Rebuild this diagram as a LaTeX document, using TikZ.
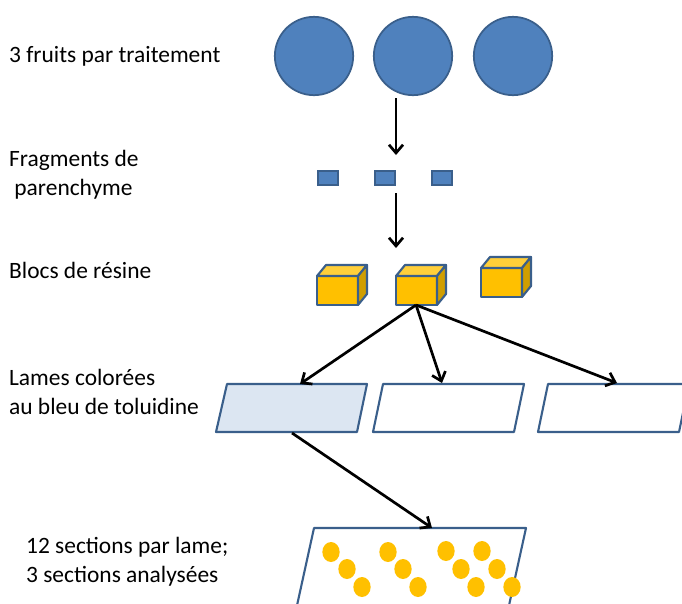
\documentclass[tikz,border=0pt]{standalone}
\usepackage{fontspec}
\setmainfont{Carlito}
\usetikzlibrary{arrows.meta}

\definecolor{fruitblue}{HTML}{4F81BD}
\definecolor{edgeblue}{HTML}{3A5F8B}
\definecolor{resin}{HTML}{FFC000}
\definecolor{resintop}{HTML}{FFCF3A}
\definecolor{resinside}{HTML}{D09E00}
\definecolor{lameblue}{HTML}{DCE6F2}

\tikzset{
  fleche/.style={-{Straight Barb[length=7pt,width=12pt]}, line width=2.3pt},
  etiquette/.style={anchor=west, align=left, font=\fontsize{20}{25}\selectfont},
  fruit/.style={circle, fill=fruitblue, draw=edgeblue, line width=1.5pt, minimum size=2.35cm, inner sep=0pt},
  fragment/.style={fill=fruitblue, draw=edgeblue, line width=1.5pt, minimum width=0.62cm, minimum height=0.42cm, inner sep=0pt},
  bord/.style={draw=edgeblue, line width=1.8pt, line join=round},
  grain/.style={fill=resin}
}

% bloc de resine : coin haut gauche de la face avant, nom
\newcommand{\bloc}[3]{%
  \filldraw[bord, fill=resin] (#1,#2) rectangle ++(41,29);
  \filldraw[bord, fill=resintop] (#1,#2) -- ++(9,-11) -- ++(41,0) -- ++(-9,11) -- cycle;
  \filldraw[bord, fill=resinside] (#1+41,#2) -- ++(9,-11) -- ++(0,29) -- ++(-9,11) -- cycle;
  \coordinate (#3) at (#1+20,#2+29);
}

\begin{document}
\begin{tikzpicture}[x=0.03cm, y=-0.03cm]
    \useasboundingbox (0,0) rectangle (682,603);

    % etiquettes
    \node[etiquette] (t1) at (5,56) {3 fruits par traitement};
    \node[etiquette] (t2) at (5,175) {Fragments de\\ \ parenchyme};
    \node[etiquette] (t3) at (5,270) {Blocs de résine};
    \node[etiquette] (t4) at (5,392) {Lames colorées\\au bleu de toluidine};
    \node[etiquette] (t5) at (22,562) {12 sections par lame;\\3 sections analysées};

    % fruits
    \node[fruit] (f1) at (314,56) {};
    \node[fruit] (f2) at (413,56) {};
    \node[fruit] (f3) at (513,56) {};

    % fragments
    \node[fragment] (p1) at (328,178) {};
    \node[fragment] (p2) at (385,178) {};
    \node[fragment] (p3) at (442,178) {};

    % blocs
    \bloc{317}{276}{b1}
    \bloc{396}{276}{b2}
    \bloc{481}{268}{b3}

    % lames
    \filldraw[bord, fill=lameblue] (227,384) -- (367,384) -- (357,432) -- (216,432) -- cycle;
    \draw[bord] (383,384) -- (524,384) -- (514,432) -- (373,432) -- cycle;
    \draw[bord] (548,384) -- (689,384) -- (679,432) -- (538,432) -- cycle;
    \coordinate (l1) at (300,384);
    \coordinate (l2) at (442,383);
    \coordinate (l3) at (617,383);
    \coordinate (l1bas) at (292,433);

    % lame finale
    \draw[bord] (296,610) -- (314,528) -- (526,528) -- (508,610);
    \coordinate (sec) at (432,528);

    % sections
    \foreach \x/\y in {331/552, 347/569, 362/587,
                       388/552, 403/569, 418/587,
                       446/551, 461/569, 476/587,
                       482/551, 497/569, 512/587}
        \fill[grain] (\x,\y) ellipse [x radius=0.26cm, y radius=0.3cm];

    % fleches
    \draw[fleche] (396,98) -- (396,155);
    \draw[fleche] (396,193) -- (396,248);
    \draw[fleche] (b2) -- (l1);
    \draw[fleche] (b2) -- (l2);
    \draw[fleche] (b2) -- (l3);
    \draw[fleche] (l1bas) -- (sec);
\end{tikzpicture}
\end{document}
